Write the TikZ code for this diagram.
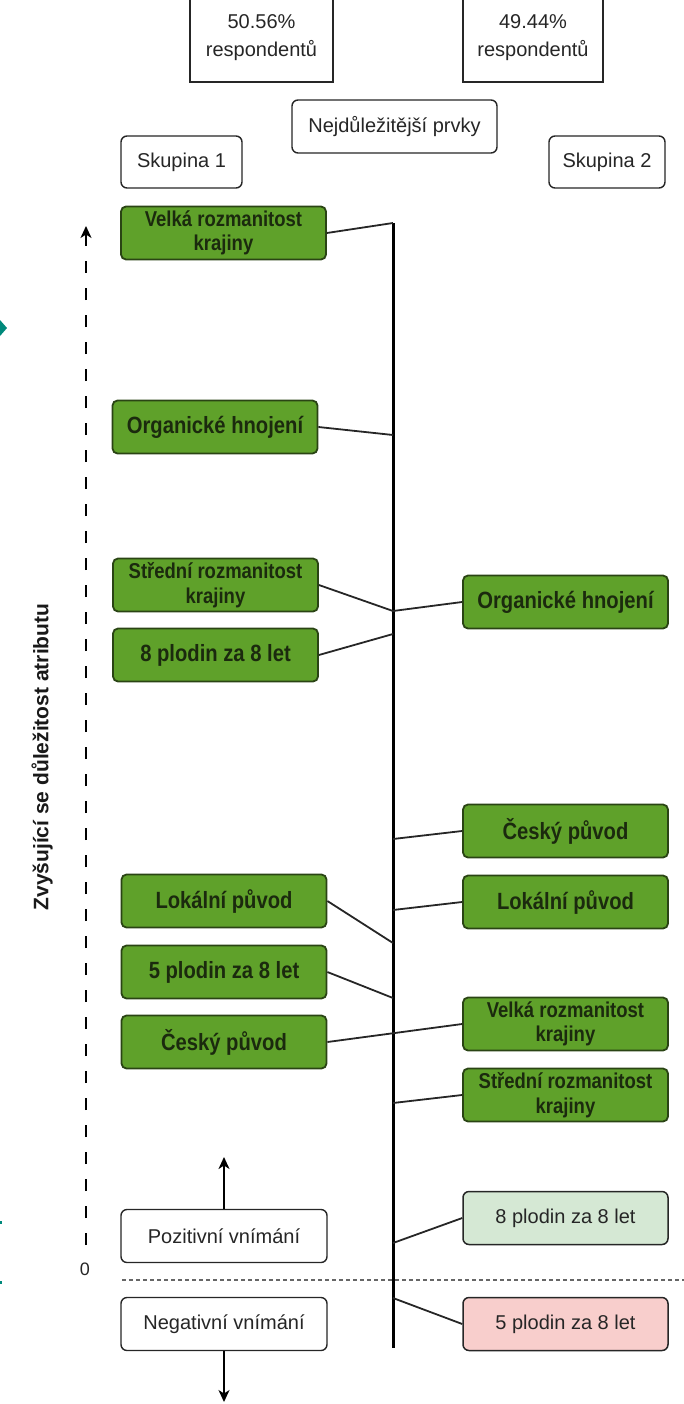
\documentclass[tikz,border=0pt]{standalone}
\usepackage{fontspec}
\setmainfont{Liberation Sans}
\newfontfamily\condfont{Liberation Sans}[FakeStretch=0.86]
\usetikzlibrary{arrows.meta}
\definecolor{grn}{HTML}{5FA12A}
\definecolor{grnd}{HTML}{2A4414}
\definecolor{gtext}{HTML}{1B2A0E}
\definecolor{lgrn}{HTML}{D5E8D4}
\definecolor{lred}{HTML}{F8CECC}
\definecolor{tealmark}{HTML}{00897B}
\begin{document}
\begin{tikzpicture}[x=1pt,y=-1pt,
  gbox/.style={draw=grnd, fill=grn, line width=1.8pt, rounded corners=5pt, minimum width=205pt, minimum height=53pt, align=center, inner sep=2pt, text=gtext, font=\condfont\fontsize{23.5}{25}\selectfont\bfseries},
  gboxtwo/.style={gbox, font=\condfont\fontsize{21.5}{24.5}\selectfont\bfseries},
  pbox/.style={draw=black!85, line width=1.5pt, rounded corners=6pt, minimum width=205pt, minimum height=53pt, align=center, text=black!85, font=\fontsize{20}{22}\selectfont},
  wbox/.style={draw=black!85, fill=white, line width=1.4pt, rounded corners=6pt, minimum height=53pt, align=center, text=black!85, font=\fontsize{20}{22}\selectfont},
  sqbox/.style={draw=black!85, line width=1.5pt, minimum width=143pt, minimum height=88pt, align=center, text=black!85, font=\fontsize{20}{28}\selectfont},
  conn/.style={draw=black!85, line width=1.8pt},
  tip/.style={-{Stealth[length=12pt,width=11pt,inset=3.5pt]}},
]
\useasboundingbox (0,0) rectangle (684,1404);

% teal edge marks
\fill[tealmark] (0,320) -- (7,328) -- (0,336) -- cycle;
\fill[tealmark] (0,1221) rectangle (2,1224);
\fill[tealmark] (0,1281) rectangle (2,1284);

% top boxes
\node[sqbox] (p1) at (261.5,38) {50.56\%\\respondentů};
\node[sqbox, minimum width=140pt] (p2) at (533,38) {49.44\%\\respondentů};
\node[wbox, minimum width=205pt] (top) at (394.5,126.5) {Nejdůležitější prvky};
\node[wbox, minimum width=121pt, minimum height=52pt] (g1) at (181.5,162) {Skupina 1};
\node[wbox, minimum width=116pt, minimum height=52pt] (g2) at (607,162) {Skupina 2};

% central axis
\coordinate (axtop) at (393,223);
\coordinate (axbot) at (393,1348);
\draw[line width=3pt] (axtop) -- (axbot);

% left importance axis
\coordinate (dlo) at (86,1245);
\coordinate (dhi) at (86,226);
\draw[line width=1.8pt, dash pattern=on 12pt off 15pt, tip] (dlo) -- (dhi);
\node[font=\fontsize{21}{24}\selectfont\bfseries, rotate=90, text=black!90] (lab) at (42,757) {Zvyšující se důležitost atributu};
\node[font=\fontsize{18}{20}\selectfont, text=black!85] (zero) at (85,1269) {0};

% zero line
\coordinate (zl) at (122,1280);
\coordinate (zr) at (684,1280);
\draw[black!60, line width=1.8pt, dash pattern=on 4pt off 3pt] (zl) -- (zr);

% left boxes (Skupina 1)
\node[gboxtwo] (vl) at (223.5,233) {Velká rozmanitost\\krajiny};
\node[gbox] (ol) at (215,427) {Organické hnojení};
\node[gboxtwo] (sl) at (215.5,585) {Střední rozmanitost\\krajiny};
\node[gbox] (pl8) at (215.5,655) {8 plodin za 8 let};
\node[gbox] (ll) at (224,901) {Lokální původ};
\node[gbox] (pl5) at (224,972) {5 plodin za 8 let};
\node[gbox] (cl) at (224,1042) {Český původ};

% right boxes (Skupina 2)
\node[gbox] (or) at (565.5,602) {Organické hnojení};
\node[gbox] (cr) at (565.5,831) {Český původ};
\node[gbox] (lr) at (565.5,902) {Lokální původ};
\node[gboxtwo] (vr) at (565.5,1024) {Velká rozmanitost\\krajiny};
\node[gboxtwo] (sr) at (565.5,1095) {Střední rozmanitost\\krajiny};
\node[pbox, fill=lgrn] (p8r) at (565.5,1218) {8 plodin za 8 let};
\node[pbox, fill=lred] (p5r) at (565.5,1324) {5 plodin za 8 let};

% perception boxes
\node[wbox, minimum width=206pt] (pos) at (224,1236) {Pozitivní vnímání};
\node[wbox, minimum width=206pt] (neg) at (224,1324) {Negativní vnímání};
\coordinate (upt) at (224,1157);
\coordinate (dnt) at (224,1402);
\draw[line width=1.6pt, tip] (pos.north) -- (upt);
\draw[line width=1.6pt, tip] (neg.south) -- (dnt);

% axis points
\coordinate (a1) at (393,435);
\coordinate (a2) at (393,611);
\coordinate (a3) at (393,634);
\coordinate (a4) at (393,943);
\coordinate (a5) at (393,998);
\coordinate (b1) at (393,839);
\coordinate (b2) at (393,910);
\coordinate (b3) at (393,1103);
\coordinate (b4) at (393,1243);
\coordinate (b5) at (393,1298);

% connectors
\draw[conn] (vl.east) -- (axtop);
\draw[conn] (ol.east) -- (a1);
\draw[conn] (sl.east) -- (a2);
\draw[conn] (pl8.east) -- (a3);
\draw[conn] (ll.east) -- (a4);
\draw[conn] (pl5.east) -- (a5);
\draw[conn] (cl.east) -- (vr.west);
\draw[conn] (a2) -- (or.west);
\draw[conn] (b1) -- (cr.west);
\draw[conn] (b2) -- (lr.west);
\draw[conn] (b3) -- (sr.west);
\draw[conn] (b4) -- (p8r.west);
\draw[conn] (b5) -- (p5r.west);
\end{tikzpicture}
\end{document}
